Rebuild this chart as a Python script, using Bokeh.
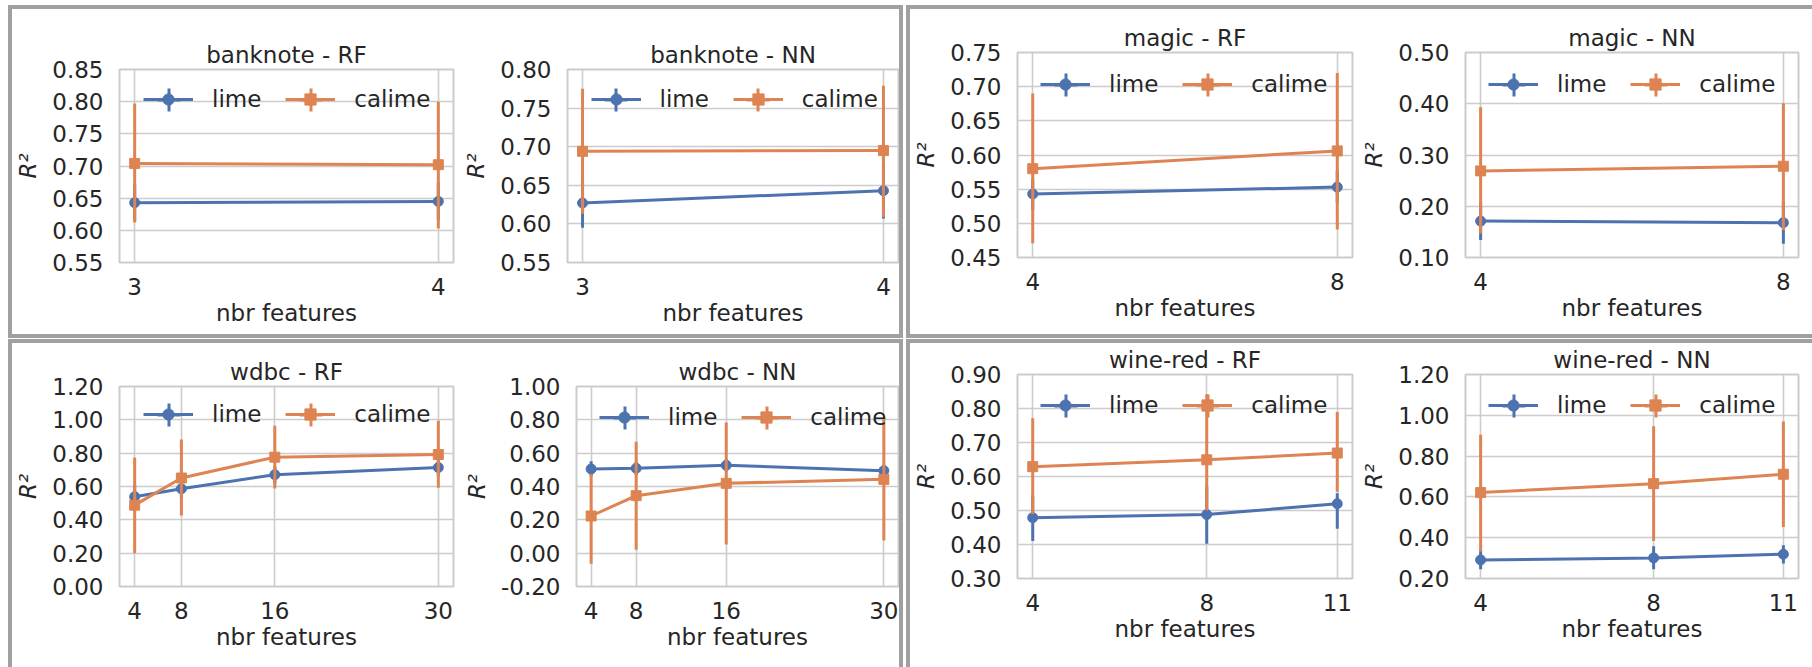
import numpy as np
from bokeh.plotting import figure
from bokeh.models import (ColumnDataSource, Legend, LegendItem, FixedTicker,
                          NumeralTickFormatter, Range1d, Spacer)
from bokeh.layouts import row, column
from bokeh.embed import file_html
from bokeh.resources import INLINE

# ---------------- data ----------------
banknote_features = [3, 4]
banknote_rf_lime_mean = [0.643, 0.645]
banknote_rf_lime_lo = [0.615, 0.616]
banknote_rf_lime_hi = [0.671, 0.674]
banknote_rf_calime_mean = [0.704, 0.702]
banknote_rf_calime_lo = [0.612, 0.603]
banknote_rf_calime_hi = [0.797, 0.800]
banknote_rf_yticks = [0.55, 0.60, 0.65, 0.70, 0.75, 0.80, 0.85]

banknote_nn_lime_mean = [0.627, 0.643]
banknote_nn_lime_lo = [0.595, 0.607]
banknote_nn_lime_hi = [0.659, 0.678]
banknote_nn_calime_mean = [0.694, 0.695]
banknote_nn_calime_lo = [0.613, 0.609]
banknote_nn_calime_hi = [0.775, 0.779]
banknote_nn_yticks = [0.55, 0.60, 0.65, 0.70, 0.75, 0.80]

magic_features = [4, 8]
magic_rf_lime_mean = [0.543, 0.553]
magic_rf_lime_lo = [0.520, 0.530]
magic_rf_lime_hi = [0.565, 0.577]
magic_rf_calime_mean = [0.580, 0.606]
magic_rf_calime_lo = [0.471, 0.491]
magic_rf_calime_hi = [0.690, 0.720]
magic_rf_yticks = [0.45, 0.50, 0.55, 0.60, 0.65, 0.70, 0.75]

magic_nn_lime_mean = [0.171, 0.168]
magic_nn_lime_lo = [0.134, 0.127]
magic_nn_lime_hi = [0.208, 0.209]
magic_nn_calime_mean = [0.269, 0.278]
magic_nn_calime_lo = [0.147, 0.153]
magic_nn_calime_hi = [0.393, 0.401]
magic_nn_yticks = [0.10, 0.20, 0.30, 0.40, 0.50]

wdbc_features = [4, 8, 16, 30]
wdbc_rf_lime_mean = [0.539, 0.586, 0.671, 0.714]
wdbc_rf_lime_lo = [0.470, 0.530, 0.620, 0.660]
wdbc_rf_lime_hi = [0.610, 0.640, 0.720, 0.770]
wdbc_rf_calime_mean = [0.488, 0.651, 0.776, 0.792]
wdbc_rf_calime_lo = [0.200, 0.426, 0.588, 0.592]
wdbc_rf_calime_hi = [0.773, 0.882, 0.965, 0.994]
wdbc_rf_yticks = [0.0, 0.2, 0.4, 0.6, 0.8, 1.0, 1.2]

wdbc_nn_lime_mean = [0.505, 0.509, 0.527, 0.495]
wdbc_nn_lime_lo = [0.460, 0.470, 0.490, 0.460]
wdbc_nn_lime_hi = [0.551, 0.550, 0.565, 0.530]
wdbc_nn_calime_mean = [0.223, 0.345, 0.419, 0.443]
wdbc_nn_calime_lo = [-0.064, 0.020, 0.052, 0.076]
wdbc_nn_calime_hi = [0.475, 0.669, 0.784, 0.808]
wdbc_nn_yticks = [-0.2, 0.0, 0.2, 0.4, 0.6, 0.8, 1.0]

wine_features = [4, 8, 11]
wine_rf_lime_mean = [0.479, 0.488, 0.520]
wine_rf_lime_lo = [0.410, 0.402, 0.446]
wine_rf_lime_hi = [0.545, 0.570, 0.551]
wine_rf_calime_mean = [0.629, 0.649, 0.669]
wine_rf_calime_lo = [0.490, 0.500, 0.555]
wine_rf_calime_hi = [0.771, 0.842, 0.790]
wine_rf_yticks = [0.3, 0.4, 0.5, 0.6, 0.7, 0.8, 0.9]

wine_nn_lime_mean = [0.291, 0.301, 0.319]
wine_nn_lime_lo = [0.245, 0.245, 0.273]
wine_nn_lime_hi = [0.339, 0.358, 0.363]
wine_nn_calime_mean = [0.621, 0.665, 0.711]
wine_nn_calime_lo = [0.331, 0.384, 0.453]
wine_nn_calime_hi = [0.905, 0.946, 0.970]
wine_nn_yticks = [0.2, 0.4, 0.6, 0.8, 1.0, 1.2]

series_names = ["lime", "calime"]
x_label = "nbr features"
y_label = "R\u00b2"

# ---------------- style ----------------
BLUE = "#4c72b0"
ORANGE = "#dd8452"
GRID = "#cccccc"
TXT = "#262626"
FONT = "DejaVu Sans"
FS = "23px"
BORDER = "4px solid #a0a0a0"


def make_panel(title, feats, lm, llo, lhi, cm, clo, chi, yticks, geom):
    W, H, bl, br, bt, bb, dx, dy = geom
    fh = H - bt - bb
    span = feats[-1] - feats[0]
    p = figure(width=W, height=H,
               x_range=Range1d(feats[0] - 0.05 * span, feats[-1] + 0.05 * span),
               y_range=Range1d(yticks[0], yticks[-1]),
               output_backend="svg", toolbar_location=None,
               min_border_left=bl, min_border_right=br,
               min_border_top=bt, min_border_bottom=bb,
               title=title)
    p.title.align = "center"
    p.title.text_font = FONT
    p.title.text_font_size = FS
    p.title.text_font_style = "normal"
    p.title.text_color = TXT
    p.title.standoff = 3

    p.outline_line_color = GRID
    p.outline_line_width = 2
    p.background_fill_color = "white"
    p.border_fill_color = "white"

    p.xaxis.ticker = FixedTicker(ticks=feats)
    p.yaxis.ticker = FixedTicker(ticks=yticks)
    p.yaxis.formatter = NumeralTickFormatter(format="0.00")
    for ax in (p.xaxis, p.yaxis):
        ax.axis_line_color = None
        ax.major_tick_line_color = None
        ax.minor_tick_line_color = None
        ax.major_tick_out = 0
        ax.major_tick_in = 0
        ax.major_label_text_font = FONT
        ax.major_label_text_font_size = FS
        ax.major_label_text_color = TXT
        ax.axis_label_text_font = FONT
        ax.axis_label_text_font_size = FS
        ax.axis_label_text_color = TXT
    p.xaxis.axis_label = x_label
    p.xaxis.axis_label_text_font_style = "normal"
    p.xaxis.major_label_standoff = 15
    p.xaxis.axis_label_standoff = 2
    p.yaxis.axis_label = y_label
    p.yaxis.axis_label_text_font_style = "italic"
    p.yaxis.major_label_standoff = 16
    p.yaxis.axis_label_standoff = 8

    p.grid.grid_line_color = GRID
    p.grid.grid_line_width = 1.6

    main_items = []
    bar_items = []
    for name, col, mk, m, lo, hi in ((series_names[0], BLUE, "circle", lm, llo, lhi),
                                     (series_names[1], ORANGE, "square", cm, clo, chi)):
        src = ColumnDataSource(dict(x=feats, m=m, lo=lo, hi=hi))
        ln = p.line("x", "m", source=src, line_color=col, line_width=3)
        sc = p.scatter("x", "m", source=src, marker=mk, size=10,
                       fill_color=col, line_color=col, line_width=1)
        p.segment(x0="x", y0="lo", x1="x", y1="hi", source=src,
                  line_color=col, line_width=3)
        # legend-only renderer for the vertical error-bar tick
        leg_src = ColumnDataSource(dict(x=[np.nan], y=[np.nan]))
        cr = p.scatter("x", "y", source=leg_src, marker="cross", size=23,
                       line_color=col, line_width=3)
        main_items.append(LegendItem(label=name, renderers=[ln, sc]))
        bar_items.append(LegendItem(label=name, renderers=[cr]))

    common = dict(orientation="horizontal", padding=0, margin=0,
                  border_line_alpha=0, background_fill_alpha=0,
                  label_text_font=FONT, label_text_font_size=FS,
                  label_text_color=TXT, spacing=24)
    leg_bars = Legend(items=bar_items, glyph_width=57, glyph_height=57,
                      label_standoff=12, label_text_alpha=0,
                      location=(dx - 3.5, fh - dy - 28.5), **common)
    leg_main = Legend(items=main_items, glyph_width=50, glyph_height=28,
                      label_standoff=19,
                      location=(dx, fh - dy - 14), **common)
    p.add_layout(leg_bars)
    p.add_layout(leg_main)
    return p


def box(children, sides):
    st = {}
    for s in ("top", "right", "bottom", "left"):
        st["border-" + s] = BORDER if s in sides else "none"
    return row(*children, styles=st)


# geometry: width, height, min borders (l, r, t, b), legend offset (dx, dy)
pA1 = make_panel("banknote - RF", banknote_features,
                 banknote_rf_lime_mean, banknote_rf_lime_lo, banknote_rf_lime_hi,
                 banknote_rf_calime_mean, banknote_rf_calime_lo, banknote_rf_calime_hi,
                 banknote_rf_yticks, (448, 325, 106, 7, 60, 72, 24, 30))
pA2 = make_panel("banknote - NN", banknote_features,
                 banknote_nn_lime_mean, banknote_nn_lime_lo, banknote_nn_lime_hi,
                 banknote_nn_calime_mean, banknote_nn_calime_lo, banknote_nn_calime_hi,
                 banknote_nn_yticks, (439, 325, 103, 1, 60, 72, 23.5, 30))
pB1 = make_panel("magic - RF", magic_features,
                 magic_rf_lime_mean, magic_rf_lime_lo, magic_rf_lime_hi,
                 magic_rf_calime_mean, magic_rf_calime_lo, magic_rf_calime_hi,
                 magic_rf_yticks, (448, 325, 107, 6, 43, 77, 23, 32))
pB2 = make_panel("magic - NN", magic_features,
                 magic_nn_lime_mean, magic_nn_lime_lo, magic_nn_lime_hi,
                 magic_nn_calime_mean, magic_nn_calime_lo, magic_nn_calime_hi,
                 magic_nn_yticks, (454, 325, 105, 14, 43, 77, 23, 32))
pC1 = make_panel("wdbc - RF", wdbc_features,
                 wdbc_rf_lime_mean, wdbc_rf_lime_lo, wdbc_rf_lime_hi,
                 wdbc_rf_calime_mean, wdbc_rf_calime_lo, wdbc_rf_calime_hi,
                 wdbc_rf_yticks, (448, 324, 106, 7, 40, 80, 24, 32))
pC2 = make_panel("wdbc - NN", wdbc_features,
                 wdbc_nn_lime_mean, wdbc_nn_lime_lo, wdbc_nn_lime_hi,
                 wdbc_nn_calime_mean, wdbc_nn_calime_lo, wdbc_nn_calime_hi,
                 wdbc_nn_yticks, (439, 324, 110, 1, 43, 81, 23, 31))
pD1 = make_panel("wine-red - RF", wine_features,
                 wine_rf_lime_mean, wine_rf_lime_lo, wine_rf_lime_hi,
                 wine_rf_calime_mean, wine_rf_calime_lo, wine_rf_calime_hi,
                 wine_rf_yticks, (448, 324, 107, 6, 30, 89, 23, 32))
pD2 = make_panel("wine-red - NN", wine_features,
                 wine_nn_lime_mean, wine_nn_lime_lo, wine_nn_lime_hi,
                 wine_nn_calime_mean, wine_nn_calime_lo, wine_nn_calime_hi,
                 wine_nn_yticks, (454, 324, 105, 14, 30, 89, 23, 32))

boxA = box([pA1, pA2], ("top", "right", "bottom", "left"))
boxB = box([pB1, pB2], ("top", "bottom", "left"))
boxC = box([pC1, pC2], ("top", "right", "left"))
boxD = box([pD1, pD2], ("top", "left"))

top = row(Spacer(width=8, height=1), boxA, Spacer(width=3, height=1), boxB)
bottom = row(Spacer(width=8, height=1), boxC, Spacer(width=3, height=1), boxD)
layout = column(Spacer(width=1, height=5), top, Spacer(width=1, height=1), bottom)

open("out.html", "w").write(file_html(layout, INLINE, title="lime vs calime"))
